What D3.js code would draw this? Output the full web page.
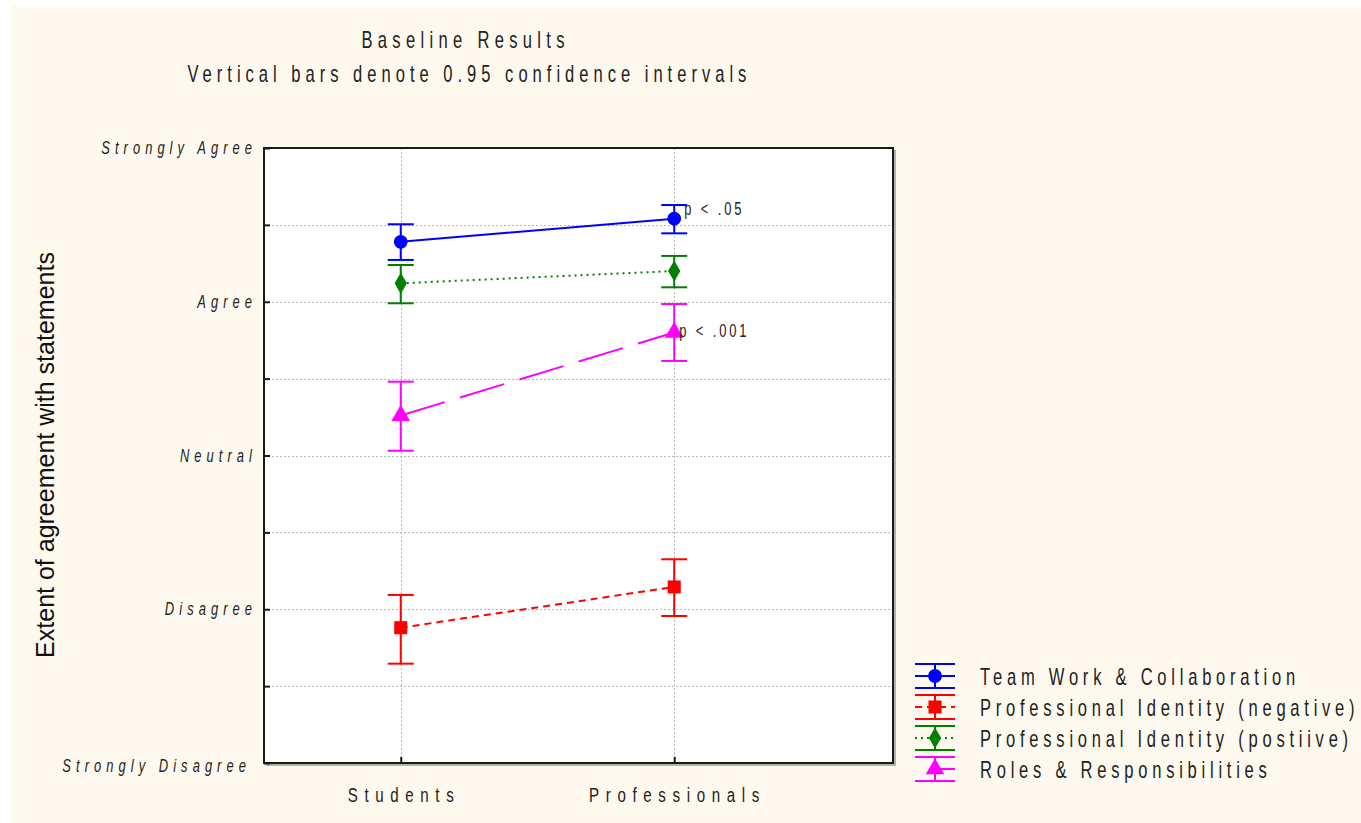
<!DOCTYPE html>
<html>
<head>
<meta charset="utf-8">
<script src="https://cdn.jsdelivr.net/npm/d3@7"></script>
<style>
  html, body { margin: 0; padding: 0; background: #ffffff; }
  svg { display: block; }
  .cond { font-family: "Liberation Sans", Arial, sans-serif; fill: #222; }
</style>
</head>
<body>
<svg id="chart" width="1361" height="823"></svg>
<script>
// Groups on the x axis
const groups = ["Students", "Professionals"];

// Agreement scale (1 = Strongly Disagree ... 5 = Strongly Agree)
const scaleLabels = ["Strongly Disagree", "Disagree", "Neutral", "Agree", "Strongly Agree"];
const yTickValues = [1, 1.5, 2, 2.5, 3, 3.5, 4, 4.5, 5];

// Series names
const seriesNames = [
  "Team Work & Collaboration",
  "Professional Identity (negative)",
  "Professional Identity (postiive)",
  "Roles & Responsibilities"
];

// Means per group (Students, Professionals)
const teamWorkMean = [4.39, 4.54];
const identityNegMean = [1.88, 2.145];
const identityPosMean = [4.12, 4.20];
const rolesMean = [3.26, 3.80];

// 0.95 confidence interval bounds [lower, upper] per group
const teamWorkCI = [[4.272, 4.504], [4.445, 4.629]];
const identityNegCI = [[1.646, 2.093], [1.956, 2.325]];
const identityPosCI = [[3.990, 4.239], [4.094, 4.298]];
const rolesCI = [[3.031, 3.480], [3.615, 3.985]];

// Significance notes attached to the Professionals point
const sigNotes = ["p < .05", null, null, "p < .001"];

const colors = ["#0000ff", "#ff0000", "#008000", "#ff00ff"];
const dashes = [null, "7,5", "2,4", "46,16"];
const symbols = [d3.symbolCircle, d3.symbolSquare, d3.symbolDiamond, d3.symbolTriangle];
const symbolSizes = [150, 170, 130, 150];

const series = seriesNames.map((name, i) => ({
  name,
  mean: [teamWorkMean, identityNegMean, identityPosMean, rolesMean][i],
  ci: [teamWorkCI, identityNegCI, identityPosCI, rolesCI][i],
  note: sigNotes[i],
  color: colors[i],
  dash: dashes[i],
  symbol: symbols[i],
  size: symbolSizes[i]
}));

const svg = d3.select("#chart");

// Horizontal squeeze applied to all condensed, letter-spaced labels
const SQUEEZE = 0.72;

// Condensed text: narrowed glyphs, wide tracking.
// If `width` is given, tracking is solved so the label spans that width on screen;
// otherwise `spacing` (local px) is used.
function condensedText(parent, str, o) {
  const t = parent.append("text").attr("class", "cond")
    .style("font-size", o.size + "px")
    .style("font-style", o.italic ? "italic" : "normal")
    .style("letter-spacing", "0px")
    .text(str);
  let spacing = o.spacing || 0;
  if (o.width) {
    const raw = t.node().getComputedTextLength();
    spacing = (o.width / SQUEEZE - raw) / (str.length - 1);
  }
  t.style("letter-spacing", spacing + "px");
  const w = (t.node().getComputedTextLength() - spacing) * SQUEEZE;
  const left = o.anchor === "middle" ? o.x - w / 2 : o.anchor === "end" ? o.x - w : o.x;
  t.attr("transform", `translate(${left},${o.y}) scale(${SQUEEZE},1)`);
  return t;
}

// Page background panel
svg.append("rect").attr("x", 11).attr("y", 6).attr("width", 1350).attr("height", 817).attr("fill", "#fef9ee");

const plot = { left: 264, right: 893, top: 148, bottom: 763 };

const x = d3.scaleLinear().domain([0.5, 2.8]).range([plot.left, plot.right]);
const y = d3.scaleLinear().domain([1, 5]).range([plot.bottom, plot.top]);

// Titles
condensedText(svg, "Baseline Results", { x: 463, y: 48, size: 23, width: 203, anchor: "middle" });
condensedText(svg, "Vertical bars denote 0.95 confidence intervals", { x: 467, y: 82, size: 23, width: 559, anchor: "middle" });

// Plot area
svg.append("rect")
  .attr("x", plot.left).attr("y", plot.top)
  .attr("width", plot.right - plot.left).attr("height", plot.bottom - plot.top)
  .attr("fill", "#ffffff");

// Grid lines
const grid = svg.append("g").attr("stroke", "#b8b8b8").attr("stroke-width", 1).attr("stroke-dasharray", "2,2");
grid.selectAll("line.h").data(yTickValues.filter(v => v > 1 && v < 5)).join("line")
  .attr("class", "h")
  .attr("x1", plot.left).attr("x2", plot.right)
  .attr("y1", d => Math.round(y(d)) + 0.5).attr("y2", d => Math.round(y(d)) + 0.5);
grid.selectAll("line.v").data([1, 2]).join("line")
  .attr("class", "v")
  .attr("y1", plot.top).attr("y2", plot.bottom)
  .attr("x1", d => Math.round(x(d)) + 0.5).attr("x2", d => Math.round(x(d)) + 0.5);

// Frame with a soft shadow on the right and bottom
svg.append("path")
  .attr("d", `M${plot.right + 2},${plot.top + 2} V${plot.bottom + 2} H${plot.left + 2}`)
  .attr("fill", "none").attr("stroke", "#9a9a9a").attr("stroke-width", 1.5);
svg.append("rect")
  .attr("x", plot.left).attr("y", plot.top)
  .attr("width", plot.right - plot.left).attr("height", plot.bottom - plot.top)
  .attr("fill", "none").attr("stroke", "#1a1a1a").attr("stroke-width", 2);

// Y axis (ticks point into the plot)
const yAxis = d3.axisLeft(y)
  .tickValues(yTickValues)
  .tickSizeInner(-6).tickSizeOuter(0)
  .tickFormat("");
const yAxisG = svg.append("g").attr("transform", `translate(${plot.left},0)`).call(yAxis);
yAxisG.select(".domain").remove();
yAxisG.selectAll(".tick line").attr("stroke", "#1a1a1a").attr("stroke-width", 2);
const yLabels = svg.append("g");
yTickValues.filter(v => Number.isInteger(v)).forEach(d => {
  condensedText(yLabels, scaleLabels[d - 1], {
    x: plot.left - (d === 1 ? 18 : 12), y: y(d) + 6 + (d === 1 ? 3 : 0),
    size: 18, italic: true, spacing: 7.0, anchor: "end"
  });
});

// X axis
const xAxis = d3.axisBottom(x)
  .tickValues([1, 2])
  .tickSizeInner(-6).tickSizeOuter(0)
  .tickFormat("");
const xAxisG = svg.append("g").attr("transform", `translate(0,${plot.bottom})`).call(xAxis);
xAxisG.select(".domain").remove();
xAxisG.selectAll(".tick line").attr("stroke", "#1a1a1a").attr("stroke-width", 2);
[1, 2].forEach(v => {
  condensedText(svg, groups[v - 1], { x: x(v), y: plot.bottom + 39, size: 21, spacing: 9.2, anchor: "middle" });
});

// Y axis title
svg.append("text")
  .attr("transform", `translate(54,455) rotate(-90)`)
  .attr("text-anchor", "middle")
  .style("font-family", "'Liberation Sans', Arial, sans-serif")
  .style("font-size", "25px").attr("fill", "#111")
  .text("Extent of agreement with statements");

// Series: connecting lines, error bars, markers
const line = d3.line().x((d, i) => x(i + 1)).y(d => y(d));
const capHalf = 13;

series.forEach(s => {
  const g = svg.append("g");
  g.append("path")
    .attr("d", line(s.mean))
    .attr("fill", "none").attr("stroke", s.color).attr("stroke-width", 2)
    .attr("stroke-dasharray", s.dash);

  s.ci.forEach((ci, i) => {
    const cx = x(i + 1);
    g.append("line").attr("x1", cx).attr("x2", cx).attr("y1", y(ci[0])).attr("y2", y(ci[1]))
      .attr("stroke", s.color).attr("stroke-width", 2);
    ci.forEach(v => {
      g.append("line").attr("x1", cx - capHalf).attr("x2", cx + capHalf)
        .attr("y1", y(v)).attr("y2", y(v))
        .attr("stroke", s.color).attr("stroke-width", 2);
    });
  });

  g.selectAll("path.marker").data(s.mean).join("path")
    .attr("class", "marker")
    .attr("transform", (d, i) => `translate(${x(i + 1)},${y(d)})`)
    .attr("d", d3.symbol(s.symbol, s.size))
    .attr("fill", s.color);
});

// Significance notes beside the Professionals points
series.filter(s => s.note).forEach(s => {
  const isTri = s.symbol === d3.symbolTriangle;
  condensedText(svg, s.note, {
    x: x(2) + (isTri ? 5 : 10), y: y(s.mean[1]) + (isTri ? 4 : -4),
    size: 18, spacing: 4.0, anchor: "start"
  });
});

// Legend
const legend = svg.append("g").attr("transform", "translate(915,676)");
series.forEach((s, i) => {
  const row = legend.append("g").attr("transform", `translate(0,${i * 31})`);
  row.append("line").attr("x1", 0).attr("x2", 40).attr("y1", 0).attr("y2", 0)
    .attr("stroke", s.color).attr("stroke-width", 2)
    .attr("stroke-dasharray", s.dash)
    .attr("stroke-dashoffset", s.symbol === d3.symbolTriangle ? 46 : 0);
  [-12, 12].forEach(dy => {
    row.append("line").attr("x1", 0).attr("x2", 40).attr("y1", dy).attr("y2", dy)
      .attr("stroke", s.color).attr("stroke-width", 2);
  });
  row.append("line").attr("x1", 20).attr("x2", 20).attr("y1", -12).attr("y2", 12)
    .attr("stroke", s.color).attr("stroke-width", 2);
  row.append("path").attr("transform", "translate(20,0)")
    .attr("d", d3.symbol(s.symbol, s.size)).attr("fill", s.color);
  condensedText(row, s.name, { x: 65, y: 9, size: 23, spacing: 6.6, anchor: "start" });
});
</script>
</body>
</html>
